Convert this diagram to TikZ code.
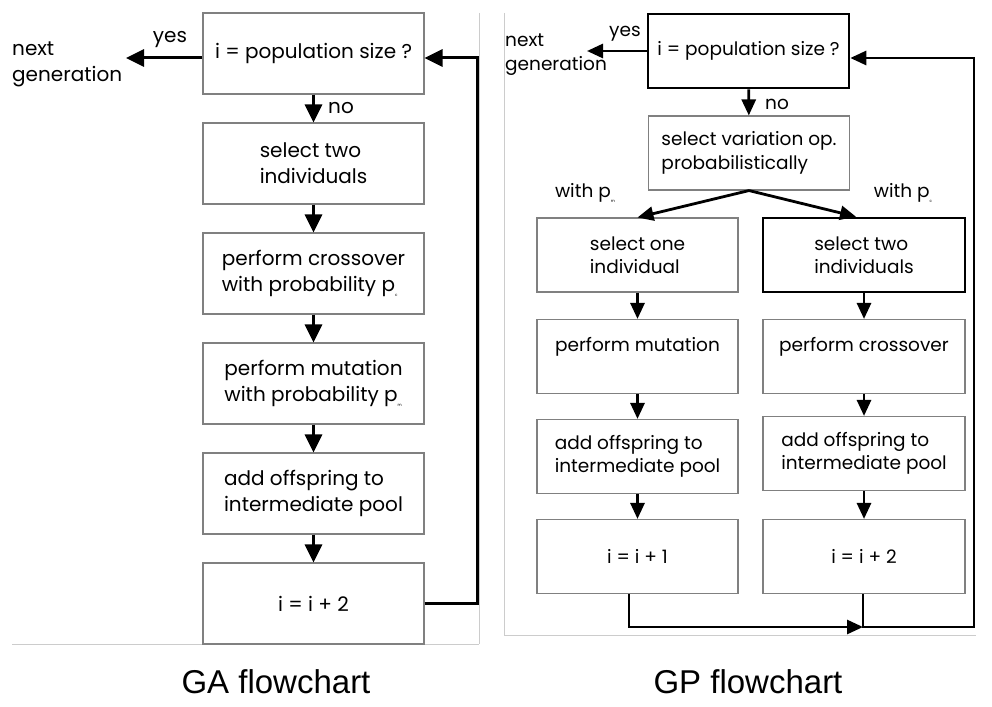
\documentclass[tikz,border=0pt]{standalone}
\usepackage{fontspec}
\setmainfont{Poppins}
\newfontfamily\titlefont{Liberation Sans}
\usetikzlibrary{arrows.meta}
\newcommand{\subtiny}[1]{\raisebox{-5pt}{\fontsize{4}{4}\selectfont #1}}
\begin{document}
\begin{tikzpicture}[x=1pt,y=-1pt,
  gabox/.style={draw=black!50, line width=1.1pt, align=left, inner sep=0pt,
    minimum width=221pt, minimum height=81pt, font=\fontsize{20}{26}\selectfont},
  gpbox/.style={draw=black!50, line width=1.1pt, align=left, inner sep=0pt,
    minimum width=201pt, minimum height=74pt, font=\fontsize{18.5}{23.5}\selectfont},
  thickbox/.style={draw=black, line width=2.6pt},
  lbl/.style={inner sep=0pt, align=left, font=\fontsize{20}{26}\selectfont},
  lblp/.style={inner sep=0pt, align=left, font=\fontsize{18.5}{24}\selectfont},
  arr/.style={line width=3pt, -{Triangle[length=18pt,width=17pt]}},
  arrp/.style={line width=2.8pt, -{Triangle[length=16pt,width=14pt]}},
  frame/.style={draw=black!20, line width=0.8pt},
  title/.style={inner sep=0pt, font=\titlefont\fontsize{33}{36}\selectfont}
]
\useasboundingbox (0,0) rectangle (992,706);
% frames
\draw[frame] (479,13) -- (479,644) (12,644) -- (479,644);
\draw[frame] (504,13) -- (504,635) -- (976,635);

% ---------------- GA ----------------
\node[gabox] (g1) at (313.5,53.5) {i = population size ?};
\node[gabox] (g2) at (313.5,163.5) {select two\\individuals};
\node[gabox] (g3) at (313.5,273.5) {perform crossover\\with probability p\subtiny{c}};
\node[gabox] (g4) at (313.5,383.5) {perform mutation\\with probability p\subtiny{m}};
\node[gabox] (g5) at (313.5,493.5) {add offspring to\\intermediate pool};
\node[gabox] (g6) at (313.5,603.5) {i = i + 2};

\coordinate (gnext) at (126,58);
\coordinate (gret) at (477,58);
\draw[arr] (g1.west |- gnext) -- (gnext);
\node[lbl] (gyes) at (170,40) {yes};
\node[lbl, anchor=west] (gnextlbl) at (12,64) {next\\generation};
\draw[arr] (g1) -- (g2);
\node[lbl] (gno) at (341,108) {no};
\draw[arr] (g2) -- (g3);
\draw[arr] (g3) -- (g4);
\draw[arr] (g4) -- (g5);
\draw[arr] (g5) -- (g6);
\draw[arr] (g6.east) -| (gret) -- (g1.east |- gret);

% ---------------- GP ----------------
\node[gpbox, thickbox] (pA) at (748.5,51) {i = population size ?};
\node[gpbox] (pB) at (749,153) {select variation op.\\probabilistically};
\node[gpbox] (L1) at (637.5,255) {select one\\individual};
\node[gpbox] (L2) at (637.5,356.5) {perform mutation\\\mbox{}};
\node[gpbox] (L3) at (637.5,456.5) {add offspring to\\intermediate pool};
\node[gpbox] (L4) at (637.5,556.5) {i = i + 1};
\node[gpbox, thickbox, minimum width=202pt] (R1) at (864,255) {select two\\individuals};
\node[gpbox, minimum width=202pt] (R2) at (864,356.5) {perform crossover\\\mbox{}};
\node[gpbox, minimum width=202pt] (R3) at (864,453.5) {add offspring to\\intermediate pool};
\node[gpbox, minimum width=202pt] (R4) at (864,556.5) {i = i + 2};

\coordinate (pnext) at (587,51);
\draw[arrp] (pA.west |- pnext) -- (pnext);
\node[lblp] (pyes) at (625,34) {yes};
\node[lblp, anchor=west] (pnextlbl) at (505,55) {next\\generation};
\draw[arrp] (pA) -- (pB);
\node[lblp] (pno) at (777,104) {no};
\draw[arrp] (pB.south) -- (L1.north);
\draw[arrp] (pB.south) -- ([xshift=-8pt]R1.north);
\node[lblp] (wpm) at (585,193) {with p\subtiny{m}};
\node[lblp] (wpc) at (903,193) {with p\subtiny{c}};
\draw[arrp] (L1) -- (L2);
\draw[arrp] (L2) -- (L3);
\draw[arrp] (L3) -- (L4);
\draw[arrp] (R1) -- (R2);
\draw[arrp] (R2) -- (R3);
\draw[arrp] (R3) -- (R4);
\coordinate (pj) at (863,627);
\coordinate (pr) at (974,58);
\draw[arrp] ([xshift=-8.5pt]L4.south) |- (pj);
\draw[arrp] (R4.south -| pj) -- (pj) -| (pr) -- (pA.east |- pr);

% titles
\node[title] (t1) at (276,682) {GA flowchart};
\node[title] (t2) at (748,682) {GP flowchart};
\end{tikzpicture}
\end{document}
